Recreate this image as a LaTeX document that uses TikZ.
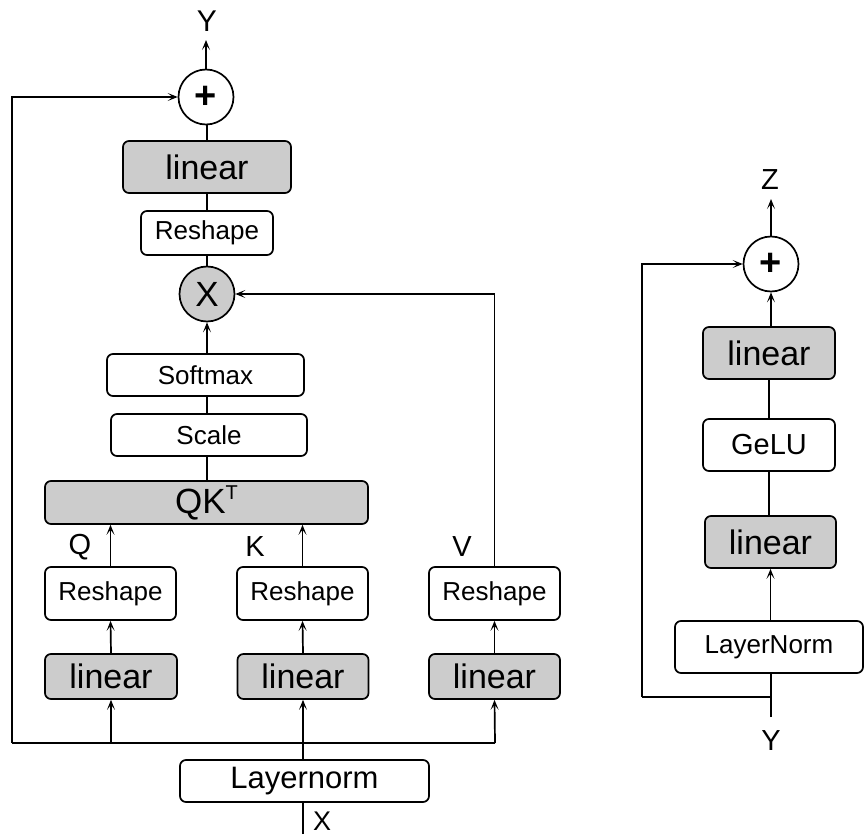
\documentclass[tikz,border=0pt]{standalone}
\usepackage{fontspec}
\setmainfont{Liberation Sans}
\usetikzlibrary{arrows.meta}

\definecolor{boxgray}{HTML}{CCCCCC}

\newcommand{\fs}[1]{\fontsize{#1}{#1}\selectfont}

\begin{document}
\begin{tikzpicture}[x=1pt,y=-1pt,
  line width=1.7pt,
  arr/.style={-{Stealth[length=10pt,width=8pt,inset=5pt]}},
  blk/.style={draw, rounded corners=6pt, inner sep=0pt, line width=1.7pt},
  graybox/.style={blk, fill=boxgray},
  whitebox/.style={blk, fill=white},
  opcirc/.style={draw, circle, inner sep=0pt, minimum size=55pt, line width=1.7pt},
  big/.style={font=\fs{34}},
  small/.style={font=\fs{26}},
  lbl/.style={inner sep=0pt, font=\fs{29}}
]
\useasboundingbox (0,0) rectangle (864,837);

% ---------------- attention block ----------------
\node[opcirc, fill=white, font=\bfseries\fs{38}] (plusA) at (206,97) {+};
\node[graybox, big, minimum width=168pt, minimum height=52pt] (linO) at (207,167) {linear};
\node[whitebox, small, minimum width=132pt, minimum height=44pt] (reshO) at (207,233) {Reshape};
\node[opcirc, fill=boxgray, font=\fs{35}] (mul) at (207,294) {X};
\node[whitebox, small, minimum width=197pt, minimum height=42pt] (soft) at (205.5,375) {Softmax};
\node[whitebox, small, minimum width=196pt, minimum height=42pt] (scl) at (209,435) {Scale};
\node[graybox, font=\fs{35}, minimum width=323pt, minimum height=43pt] (qk) at (206.5,502.5)
  {QK\raisebox{14pt}{\fs{20}T}};

\node[whitebox, small, minimum width=131pt, minimum height=53pt] (rq) at (110.5,593.5) {Reshape};
\node[whitebox, small, minimum width=131pt, minimum height=53pt] (rk) at (302.5,593.5) {Reshape};
\node[whitebox, small, minimum width=131pt, minimum height=53pt] (rv) at (494.5,593.5) {Reshape};

\node[graybox, big, minimum width=132pt, minimum height=45pt] (lq) at (111,676.5) {linear};
\node[graybox, big, minimum width=131pt, minimum height=45pt] (lk) at (303,676.5) {linear};
\node[graybox, big, minimum width=131pt, minimum height=45pt] (lv) at (494.5,676.5) {linear};

\node[whitebox, font=\fs{31}, minimum width=249pt, minimum height=42pt] (ln) at (304.5,781) {Layernorm};

\node[lbl] (qlab) at (80,547) {Q};
\node[lbl] (klab) at (255,547) {K};
\node[lbl] (vlab) at (462,547) {V};
\node[lbl, font=\fs{30}] (ylab) at (207,21) {Y};
\node[lbl, font=\fs{27}] (xlab) at (322,821) {X};

\coordinate (ytip) at (206,40);
\coordinate (xin) at (303,834);
\coordinate (busL) at (12,743);
\coordinate (busR) at (495,743);

% main path
\draw[arr] (plusA.north) -- (ytip);
\draw (linO.north) -- (linO.north |- plusA.south);
\draw (reshO.north) -- (linO.south);
\draw (mul.north) -- (reshO.south);
\draw[arr] (soft.north -| mul.south) -- (mul.south);
\draw (scl.north -| mul.south) -- (soft.south -| mul.south);
\draw (qk.north -| mul.south) -- (scl.south -| mul.south);

% Q, K, V branches
\draw[arr] (rq.north) -- (rq.north |- qk.south);
\draw[arr] (rk.north) -- (rk.north |- qk.south);
\draw[arr] (rv.north) |- (mul.east);
\draw[arr] (lq.north) -- (rq.south);
\draw[arr] (lk.north) -- (rk.south);
\draw[arr] (lv.north) -- (rv.south);

% input bus and residual
\draw (xin) -- (ln.south -| xin);
\draw[arr] (ln.north -| lk.south) -- (lk.south);
\draw (busL) -- (busR);
\draw[arr] (lq.south |- busL) -- (lq.south);
\draw[arr] (busR) -- (lv.south);
\draw[arr] (busL) |- (plusA.west);

% ---------------- MLP block ----------------
\node[opcirc, fill=white, font=\bfseries\fs{38}] (plusB) at (771,264) {+};
\node[graybox, big, minimum width=132pt, minimum height=52pt] (lb) at (769,353) {linear};
\node[whitebox, font=\fs{29}, minimum width=132pt, minimum height=52pt] (gelu) at (769,445) {GeLU};
\node[graybox, big, minimum width=131pt, minimum height=52pt] (la) at (770.5,542) {linear};
\node[whitebox, small, minimum width=188pt, minimum height=52pt] (lnr) at (769,647) {LayerNorm};

\node[lbl, font=\fs{29}] (zlab) at (770,180) {Z};
\node[lbl, font=\fs{29}] (ylab2) at (771,741) {Y};

\coordinate (ztip) at (771,199);
\coordinate (yin) at (771,717);
\coordinate (skipB) at (642,697);

\draw[arr] (plusB.north) -- (ztip);
\draw[arr] (lb.north -| plusB.south) -- (plusB.south);
\draw (gelu.north -| lb.south) -- (lb.south);
\draw (la.north -| gelu.south) -- (gelu.south);
\draw[arr] (lnr.north -| la.south) -- (la.south);
\draw (yin) -- (lnr.south -| yin);
\draw (yin |- skipB) -- (skipB);
\draw[arr] (skipB) |- (plusB.west);
\end{tikzpicture}
\end{document}
